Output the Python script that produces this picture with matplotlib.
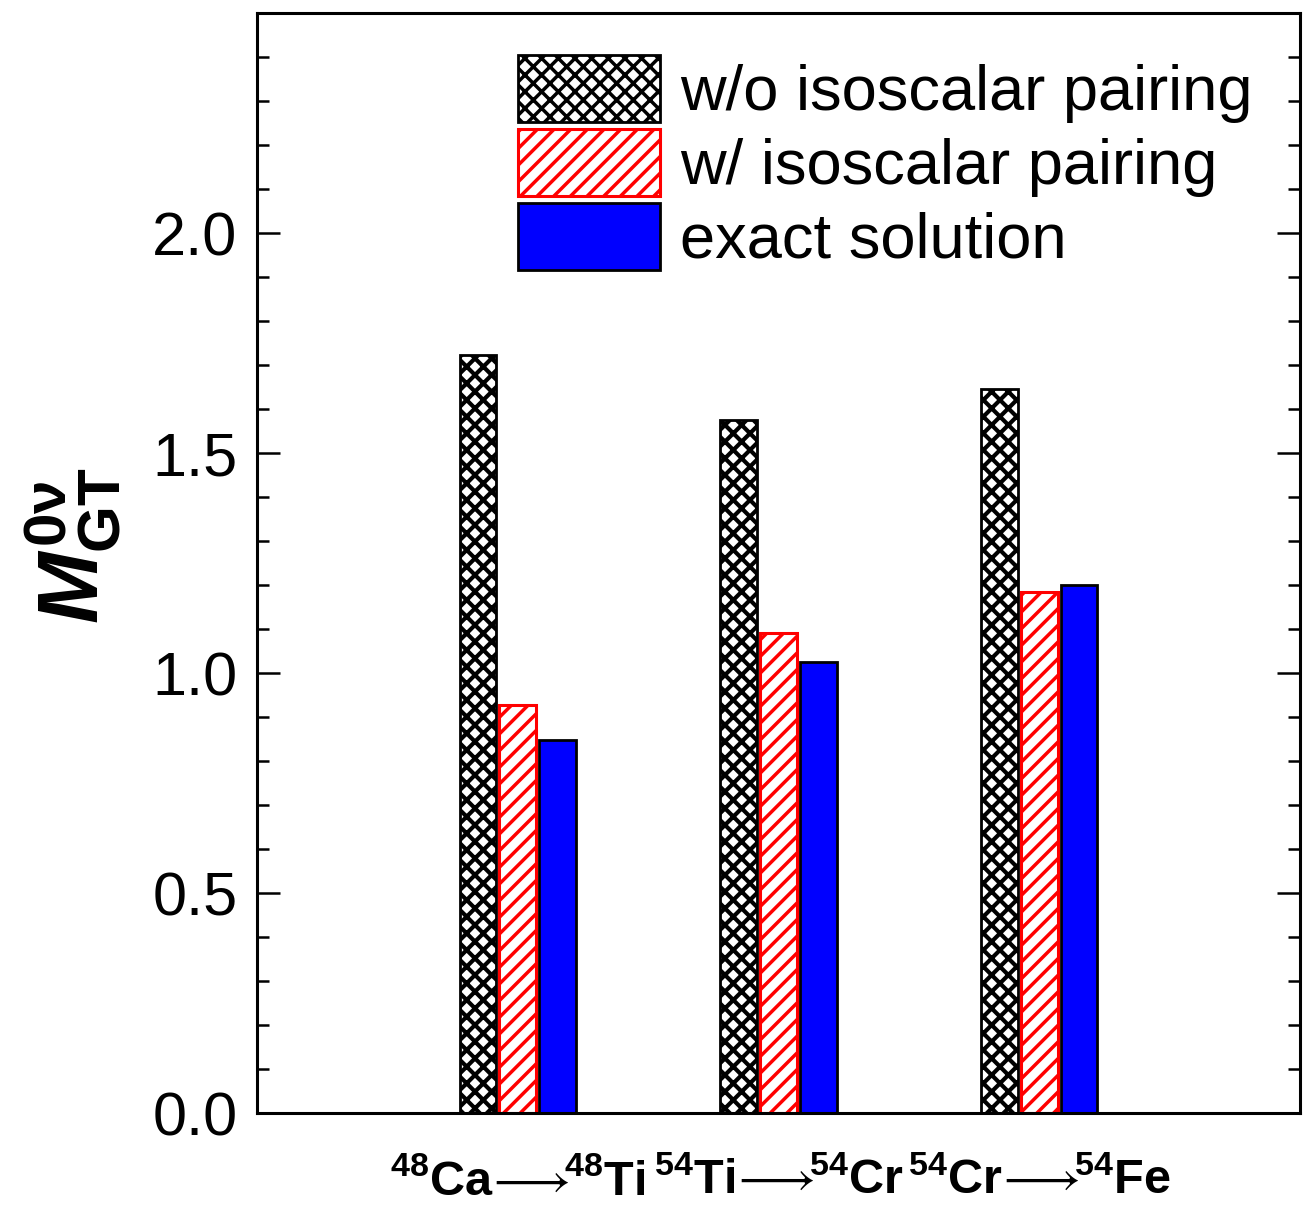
import numpy as np
import matplotlib
matplotlib.use("Agg")
import matplotlib.pyplot as plt
from matplotlib.ticker import MultipleLocator, FormatStrFormatter

plt.rcParams['font.family'] = ['Liberation Sans', 'DejaVu Sans']
plt.rcParams['mathtext.fontset'] = 'custom'
plt.rcParams['mathtext.rm'] = 'Liberation Sans:bold'
plt.rcParams['mathtext.bf'] = 'Liberation Sans:bold'
plt.rcParams['mathtext.it'] = 'Liberation Sans:bold:italic'
plt.rcParams['mathtext.fallback'] = 'stixsans'

# dados
transicoes = [r'$^{48}$Ca$\!\longrightarrow\!\!{}^{48}$Ti',
              r'$^{54}$Ti$\!\longrightarrow\!\!{}^{54}$Cr',
              r'$^{54}$Cr$\!\longrightarrow\!\!{}^{54}$Fe']
sem_isoscalar = [1.723, 1.576, 1.645]
com_isoscalar = [0.927, 1.090, 1.183]
exata = [0.848, 1.026, 1.200]
legendas = ['w/o isoscalar pairing', 'w/ isoscalar pairing', 'exact solution']

fig = plt.figure(figsize=(13.03, 12.08), dpi=100)
ax = fig.add_axes([257/1303, 1 - 1113/1208, 1043/1303, 1100/1208])

x = np.arange(1, len(transicoes) + 1)
largura = 0.14
passo = 0.153

plt.rcParams['hatch.linewidth'] = 3.0
ax.bar(x - passo, sem_isoscalar, largura, color='white', edgecolor='black',
       hatch='xx', linewidth=2.0, label=legendas[0])
plt.rcParams['hatch.linewidth'] = 2.5
ax.bar(x, com_isoscalar, largura, color='white', edgecolor='red',
       hatch='//', linewidth=2.2, label=legendas[1])
ax.bar(x + passo, exata, largura, color='blue', edgecolor='black',
       linewidth=2.0, label=legendas[2])

ax.set_xlim(0, 4)
ax.set_ylim(0, 2.5)
ax.set_yticks([0, 0.5, 1.0, 1.5, 2.0])
ax.yaxis.set_minor_locator(MultipleLocator(0.1))
ax.yaxis.set_major_formatter(FormatStrFormatter('%.1f'))
ax.tick_params(axis='y', which='both', direction='in', right=True, width=1.8,
               labelsize=44, pad=14)
ax.tick_params(axis='y', which='major', length=16.5)
ax.tick_params(axis='y', which='minor', length=8.5)

ax.set_xticks(x)
ax.set_xticklabels(transicoes, fontsize=35, fontweight='bold')
ax.tick_params(axis='x', length=0, pad=33)

for s in ax.spines.values():
    s.set_linewidth(2.2)

fig.text(123/1303, 1 - 546/1208, r'$M^{0\mathrm{ν}}_{\mathrm{GT}}$', fontsize=62,
         rotation=90, ha='right', va='center')

ax.legend(loc='upper left', bbox_to_anchor=(0.25, 0.962), frameon=False,
          fontsize=45.5, handlelength=2.25, handleheight=1.26, handletextpad=0.32,
          labelspacing=0.1, borderpad=0, borderaxespad=0)

fig.savefig('out.png', dpi=100)
